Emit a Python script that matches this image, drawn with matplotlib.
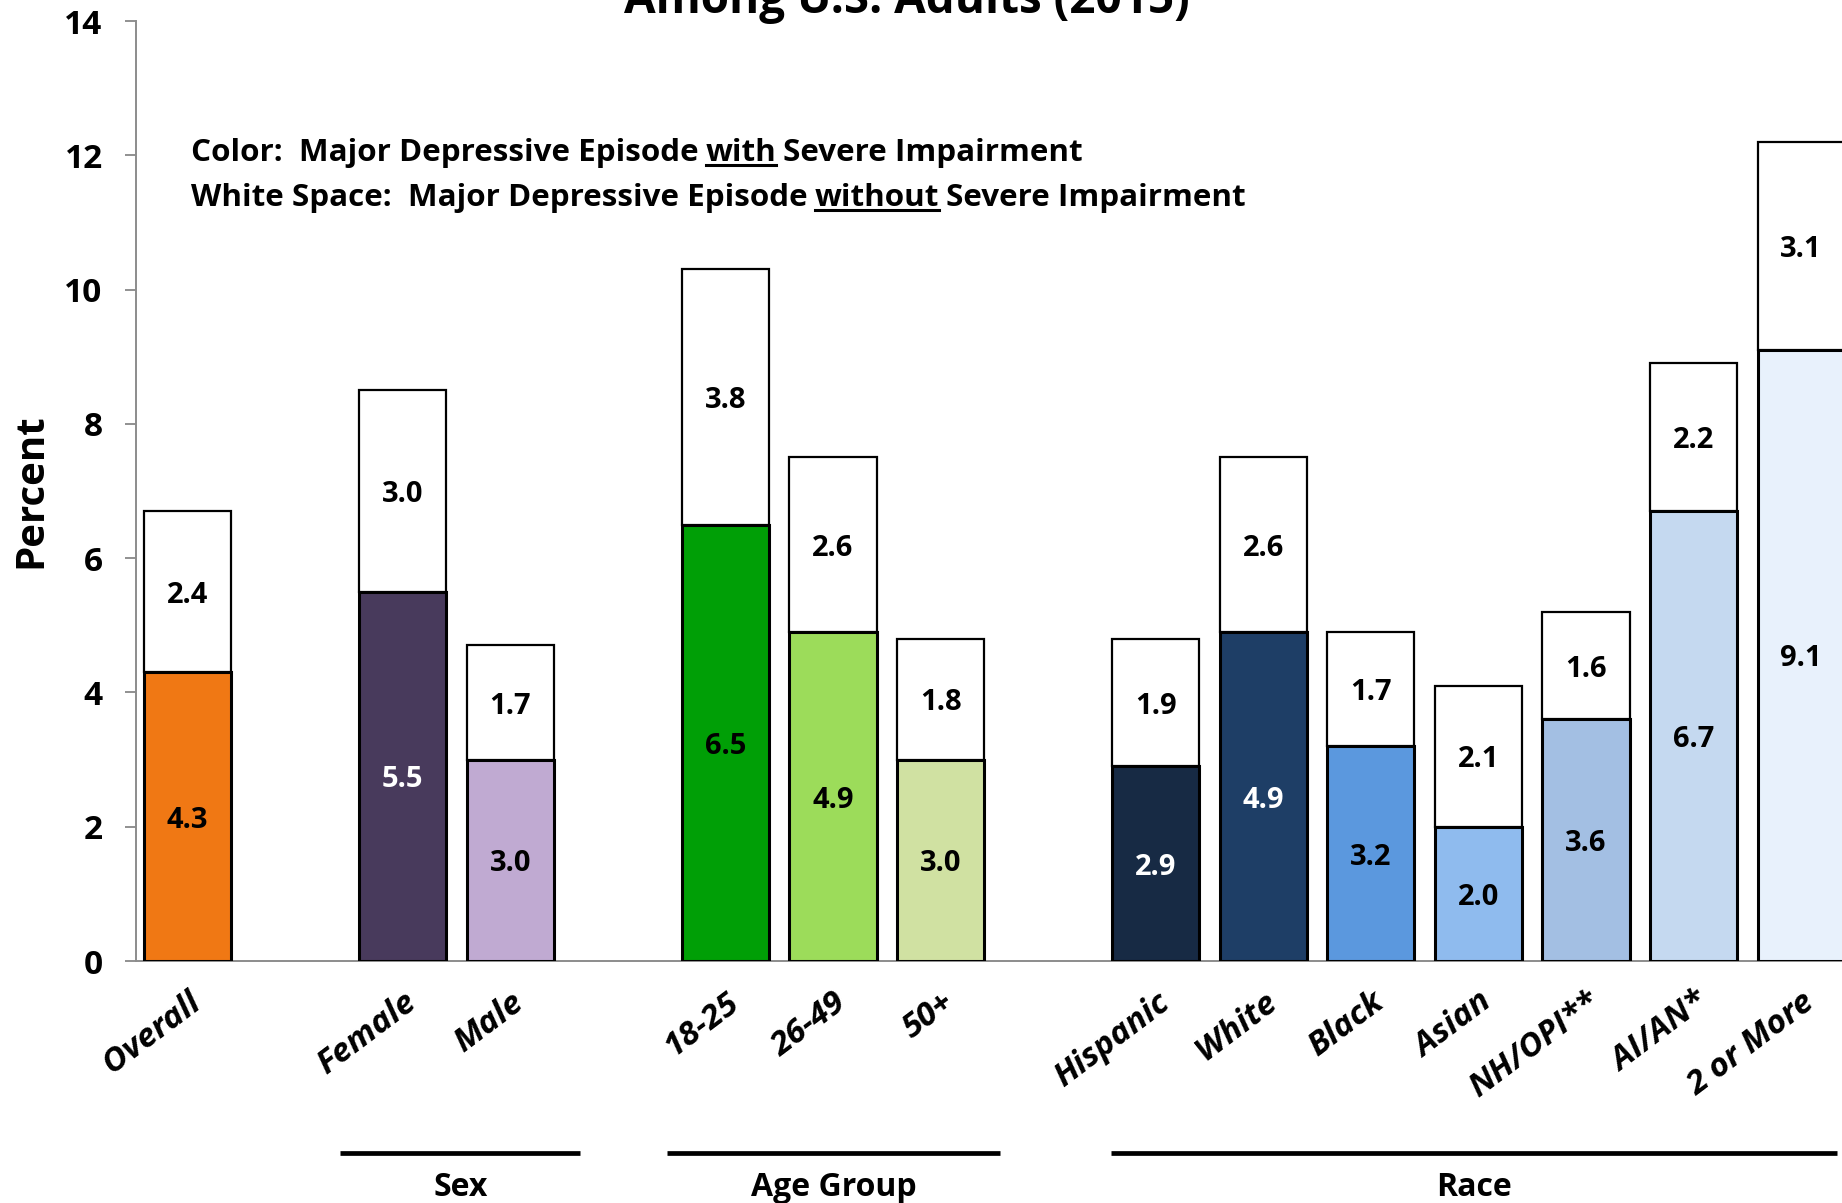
import matplotlib
matplotlib.use('Agg')
import matplotlib.pyplot as plt
from matplotlib.transforms import blended_transform_factory, IdentityTransform
from matplotlib.lines import Line2D

FONT = ['Open Sans', 'DejaVu Sans']
plt.rcParams['font.family'] = FONT

# ---------------- data ----------------
categories = ['Overall', 'Female', 'Male', '18-25', '26-49', '50+',
              'Hispanic', 'White', 'Black', 'Asian', 'NH/OPI**', 'AI/AN*', '2 or More']
positions = [0, 2, 3, 5, 6, 7, 9, 10, 11, 12, 13, 14, 15]
with_severe = [4.3, 5.5, 3.0, 6.5, 4.9, 3.0, 2.9, 4.9, 3.2, 2.0, 3.6, 6.7, 9.1]
without_severe = [2.4, 3.0, 1.7, 3.8, 2.6, 1.8, 1.9, 2.6, 1.7, 2.1, 1.6, 2.2, 3.1]
bar_colors = ['#F07814', '#483A5C', '#C0AAD2', '#009F06', '#9CDC5A', '#D0E1A2',
              '#172A44', '#1E3E66', '#5B98DE', '#8FBBEE', '#A3BFE3', '#C5D9F0', '#E8F1FC']
label_colors = ['black', 'white', 'black', 'black', 'black', 'black',
                'white', 'white', 'black', 'black', 'black', 'black', 'black']
groups = ['Sex', 'Age Group', 'Race']
group_spans = [(1.42, 3.65), (4.46, 7.55), (8.58, 15.33)]
yticks = [0, 2, 4, 6, 8, 10, 12, 14]

W, H = 1842, 1203
fig = plt.figure(figsize=(W / 100, H / 100), dpi=100)
ax = fig.add_axes([136 / W, (H - 961) / H, 1 - 136 / W, (961 - 21) / H])

bw = 0.81
ax.bar(positions, with_severe, width=bw, color=bar_colors, edgecolor='black',
       linewidth=2.2, zorder=3)
ax.bar(positions, without_severe, width=bw, bottom=with_severe, color='white',
       edgecolor='black', linewidth=1.6, zorder=3)

for x, a, b, lc in zip(positions, with_severe, without_severe, label_colors):
    ax.text(x, a / 2, f'{a:.1f}', ha='center', va='center_baseline', fontsize=21,
            fontweight='bold', color=lc, zorder=5)
    ax.text(x, a + b / 2, f'{b:.1f}', ha='center', va='center_baseline', fontsize=21,
            fontweight='bold', color='black', zorder=5)

ax.set_xlim(-0.48, 15.38)
ax.set_ylim(0, 14)
ax.set_yticks(yticks)
ax.set_yticklabels([str(v) for v in yticks], fontsize=24, fontweight='bold')
ax.tick_params(axis='y', length=8, width=1.3, color='#888888', pad=16)
ax.set_xticks(positions)
ax.set_xticklabels(categories, fontsize=24, fontweight='bold', style='italic',
                   rotation=37, ha='right', va='top', rotation_mode='anchor')
ax.tick_params(axis='x', length=0, pad=18)
for s in ['top', 'right']:
    ax.spines[s].set_visible(False)
for s in ['left', 'bottom']:
    ax.spines[s].set_color('#8C8C8C')
    ax.spines[s].set_linewidth(1.4)

fig.text(31 / W, 1 - 491 / H, 'Percent', rotation=90, ha='center', va='center',
         fontsize=29, fontweight='bold')

fig.text(907 / W, 1 - 13 / H, 'Among U.S. Adults (2015)', ha='center',
         va='baseline', fontsize=33, fontweight='bold')

# group lines and labels
bt = blended_transform_factory(ax.transData, fig.transFigure)
for name, (x0, x1) in zip(groups, group_spans):
    ax.plot([x0, x1], [(H - 1153) / H] * 2, color='black', lw=3.4,
            transform=bt, clip_on=False, solid_capstyle='butt')
    ax.text((x0 + x1) / 2, (H - 1188) / H, name, transform=bt, ha='center',
            va='center', fontsize=23, fontweight='bold')

# legend-like annotation text with underlined words
def chained(parts, x, y):
    arts = []
    prev = None
    for txt, ul in parts:
        if prev is None:
            t = fig.text(x, y, txt, fontsize=22.6, fontweight='bold',
                         ha='left', va='baseline')
        else:
            t = ax.annotate(txt, xy=(1, 0), xycoords=prev, xytext=(5, 0),
                            textcoords='offset points', ha='left', va='bottom',
                            fontsize=22.6, fontweight='bold', annotation_clip=False)
        arts.append((t, ul))
        prev = t
    return arts

line1 = chained([('Color:  Major Depressive Episode', False), ('with', True),
                 ('Severe Impairment', False)], 191 / W, 1 - 161 / H)
line2 = chained([('White Space:  Major Depressive Episode', False), ('without', True),
                 ('Severe Impairment', False)], 191 / W, 1 - 206 / H)

fig.canvas.draw()
r = fig.canvas.get_renderer()
for t, ul in line1 + line2:
    if ul:
        bb = t.get_window_extent(r)
        yy = bb.y0 + 3
        fig.lines.append(Line2D([bb.x0, bb.x1], [yy, yy], color='black', lw=2.2,
                                transform=IdentityTransform(), figure=fig))

fig.savefig('out.png', dpi=100)
